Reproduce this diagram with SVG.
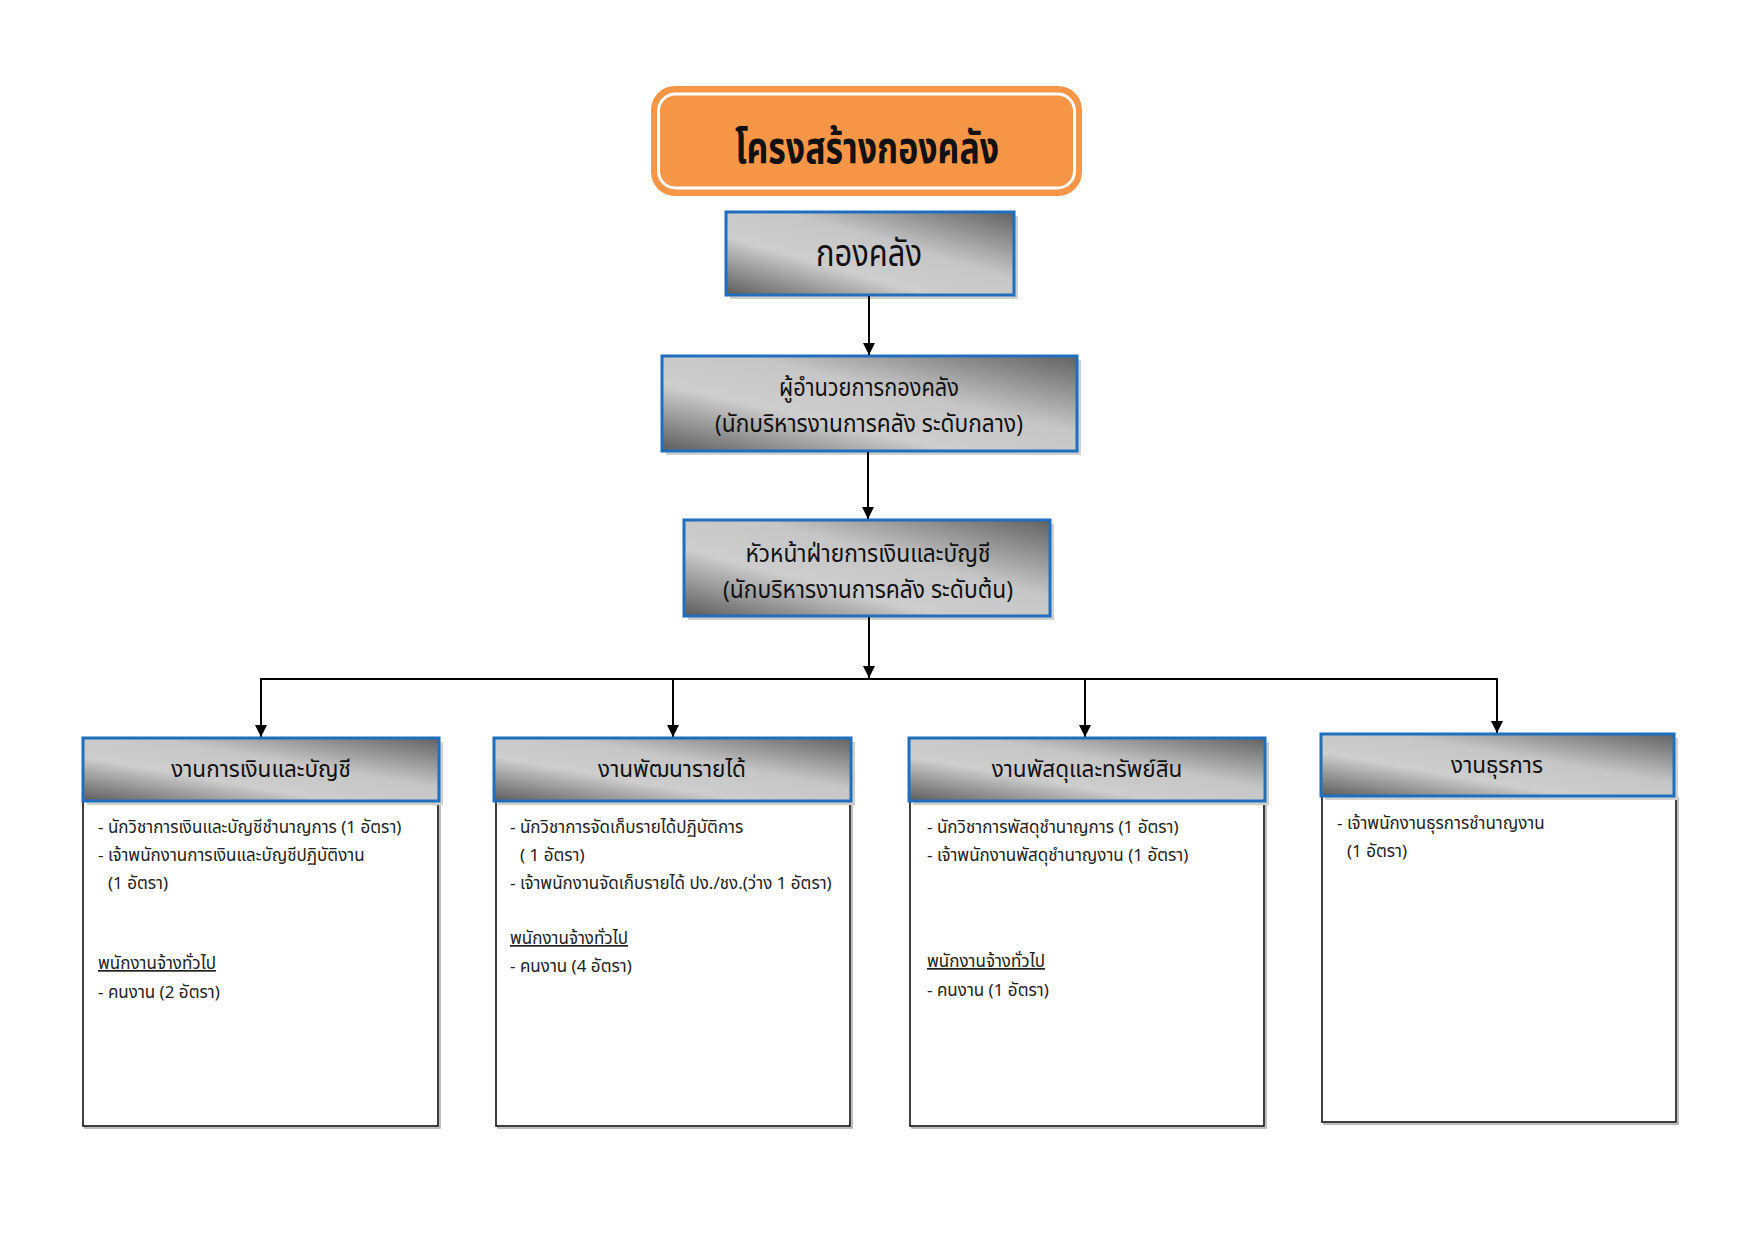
<svg xmlns="http://www.w3.org/2000/svg" width="1755" height="1241" viewBox="0 0 1755 1241">
<defs>
  <linearGradient id="gray" x1="0" y1="1" x2="1" y2="0">
    <stop offset="0" stop-color="#5c5c5c"/>
    <stop offset="0.35" stop-color="#cdcdcd"/>
    <stop offset="0.6" stop-color="#c6c6c6"/>
    <stop offset="1" stop-color="#626262"/>
  </linearGradient>
  <marker id="arr" viewBox="0 0 12 12" refX="12" refY="6" markerWidth="12" markerHeight="12" markerUnits="userSpaceOnUse" orient="auto">
    <path d="M0,0 L12,6 L0,12 Z" fill="#000"/>
  </marker>
</defs>
<style>
  text { font-family: "Noto Sans Thai", "Noto Sans Thai Looped", "Loma", "Garuda", "Liberation Sans", sans-serif; fill: #111; }
  .shadow { fill: #d0d0d0; }
  .hdr { fill: url(#gray); stroke: #1f6fbf; stroke-width: 3; }
  .body { fill: #fff; stroke: #111; stroke-width: 1.6; }
  .bshadow { fill: none; stroke: #aaa; stroke-width: 1.5; }
  .conn { stroke: #000; stroke-width: 2; fill: none; }
  .t-title { font-size: 44px; font-weight: bold; text-anchor: middle; }
  .t-main { font-size: 37px; text-anchor: middle; }
  .t-mid { font-size: 24px; text-anchor: middle; }
  .t-hdr { font-size: 22.5px; text-anchor: middle; }
  .t-body { font-size: 17px; fill: #222; }
  .u { text-decoration: underline; }
</style>
<rect width="1755" height="1241" fill="#fff"/>

<g id="title">
  <rect x="651" y="86" width="431" height="110" rx="24" fill="#f79646"/>
  <rect x="658.5" y="94" width="416" height="94" rx="17" fill="none" stroke="#fff" stroke-width="3"/>
  <text class="t-title" x="867" y="163" textLength="264" lengthAdjust="spacingAndGlyphs">โครงสร้างกองคลัง</text>
</g>

<g id="node-kongklang">
  <rect class="shadow" x="730" y="216" width="288" height="83"/>
  <rect class="hdr" x="726" y="212" width="288" height="83"/>
  <text class="t-main" x="869" y="266" textLength="106" lengthAdjust="spacingAndGlyphs">กองคลัง</text>
</g>

<g id="node-director">
  <rect class="shadow" x="666" y="360" width="415" height="95"/>
  <rect class="hdr" x="662" y="356" width="415" height="95"/>
  <text class="t-mid" x="869" y="396" textLength="180" lengthAdjust="spacingAndGlyphs">ผู้อำนวยการกองคลัง</text>
  <text class="t-mid" x="869" y="432" textLength="308" lengthAdjust="spacingAndGlyphs">(นักบริหารงานการคลัง ระดับกลาง)</text>
</g>

<g id="node-head">
  <rect class="shadow" x="688" y="524" width="366" height="96"/>
  <rect class="hdr" x="684" y="520" width="366" height="96"/>
  <text class="t-mid" x="868" y="562" textLength="245" lengthAdjust="spacingAndGlyphs">หัวหน้าฝ่ายการเงินและบัญชี</text>
  <text class="t-mid" x="868" y="598" textLength="290" lengthAdjust="spacingAndGlyphs">(นักบริหารงานการคลัง ระดับต้น)</text>
</g>

<g id="connectors">
  <line class="conn" x1="869" y1="296" x2="869" y2="355" marker-end="url(#arr)"/>
  <line class="conn" x1="868" y1="452" x2="868" y2="519" marker-end="url(#arr)"/>
  <line class="conn" x1="869" y1="617" x2="869" y2="678" marker-end="url(#arr)"/>
  <line class="conn" x1="260" y1="679" x2="1498" y2="679"/>
  <line class="conn" x1="261" y1="678" x2="261" y2="737" marker-end="url(#arr)"/>
  <line class="conn" x1="673" y1="678" x2="673" y2="737" marker-end="url(#arr)"/>
  <line class="conn" x1="1085" y1="678" x2="1085" y2="737" marker-end="url(#arr)"/>
  <line class="conn" x1="1497" y1="678" x2="1497" y2="733" marker-end="url(#arr)"/>
</g>

<g id="node-finance">
  <rect class="bshadow" x="85" y="803" width="355" height="325"/>
  <rect class="body" x="83" y="801" width="355" height="325"/>
  <rect class="shadow" x="87" y="742" width="356" height="63"/>
  <rect class="hdr" x="83" y="738" width="356" height="63"/>
  <text class="t-hdr" x="261" y="777">งานการเงินและบัญชี</text>
  <text class="t-body" x="98" y="833">- นักวิชาการเงินและบัญชีชำนาญการ (1 อัตรา)</text>
  <text class="t-body" x="98" y="861">- เจ้าพนักงานการเงินและบัญชีปฏิบัติงาน</text>
  <text class="t-body" x="108" y="889">(1 อัตรา)</text>
  <text class="t-body u" x="98" y="969">พนักงานจ้างทั่วไป</text>
  <text class="t-body" x="98" y="998">- คนงาน (2 อัตรา)</text>
</g>

<g id="node-revenue">
  <rect class="bshadow" x="498" y="803" width="354" height="325"/>
  <rect class="body" x="496" y="801" width="354" height="325"/>
  <rect class="shadow" x="498" y="742" width="357" height="63"/>
  <rect class="hdr" x="494" y="738" width="357" height="63"/>
  <text class="t-hdr" x="672" y="777">งานพัฒนารายได้</text>
  <text class="t-body" x="510" y="833">- นักวิชาการจัดเก็บรายได้ปฏิบัติการ</text>
  <text class="t-body" x="520" y="861">( 1 อัตรา)</text>
  <text class="t-body" x="510" y="889">- เจ้าพนักงานจัดเก็บรายได้ ปง./ชง.(ว่าง 1 อัตรา)</text>
  <text class="t-body u" x="510" y="944">พนักงานจ้างทั่วไป</text>
  <text class="t-body" x="510" y="972">- คนงาน (4 อัตรา)</text>
</g>

<g id="node-supply">
  <rect class="bshadow" x="912" y="803" width="354" height="325"/>
  <rect class="body" x="910" y="801" width="354" height="325"/>
  <rect class="shadow" x="913" y="742" width="356" height="63"/>
  <rect class="hdr" x="909" y="738" width="356" height="63"/>
  <text class="t-hdr" x="1087" y="777">งานพัสดุและทรัพย์สิน</text>
  <text class="t-body" x="927" y="833">- นักวิชาการพัสดุชำนาญการ (1 อัตรา)</text>
  <text class="t-body" x="927" y="861">- เจ้าพนักงานพัสดุชำนาญงาน (1 อัตรา)</text>
  <text class="t-body u" x="927" y="967">พนักงานจ้างทั่วไป</text>
  <text class="t-body" x="927" y="996">- คนงาน (1 อัตรา)</text>
</g>

<g id="node-admin">
  <rect class="bshadow" x="1324" y="798" width="354" height="326"/>
  <rect class="body" x="1322" y="796" width="354" height="326"/>
  <rect class="shadow" x="1325" y="738" width="353" height="62"/>
  <rect class="hdr" x="1321" y="734" width="353" height="62"/>
  <text class="t-hdr" x="1497" y="773">งานธุรการ</text>
  <text class="t-body" x="1337" y="829">- เจ้าพนักงานธุรการชำนาญงาน</text>
  <text class="t-body" x="1347" y="857">(1 อัตรา)</text>
</g>
</svg>
